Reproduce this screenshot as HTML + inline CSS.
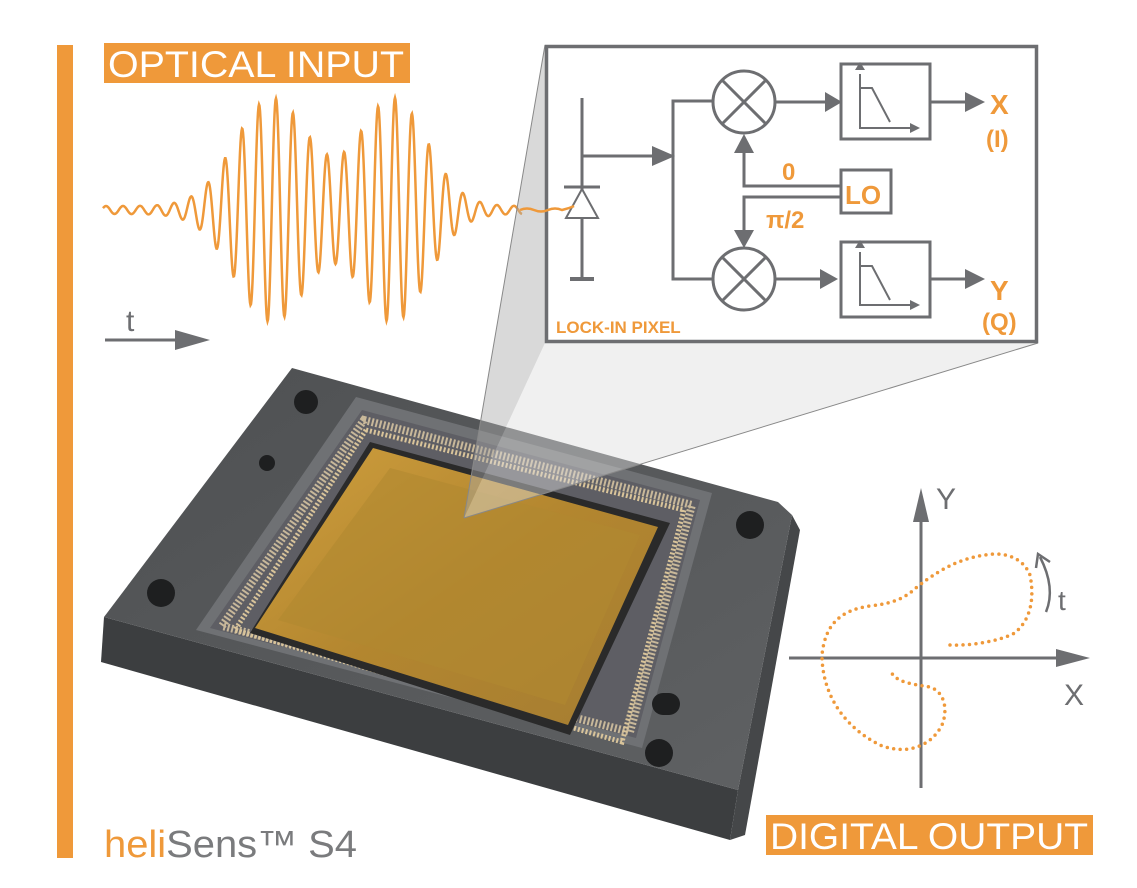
<!DOCTYPE html>
<html><head><meta charset="utf-8"><style>
html,body{margin:0;padding:0;background:#fff;}
svg{display:block;}
text{font-family:"Liberation Sans",sans-serif;}
</style></head><body>
<svg id="s" width="1137" height="888" viewBox="0 0 1137 888" xmlns="http://www.w3.org/2000/svg">
<defs>
<linearGradient id="top" x1="0" y1="0" x2="1" y2="1"><stop offset="0" stop-color="#4e5052"/><stop offset="1" stop-color="#5f6163"/></linearGradient>
<linearGradient id="gold" x1="0" y1="0" x2="1" y2="1"><stop offset="0" stop-color="#cf9f3e"/><stop offset="0.5" stop-color="#b3862f"/><stop offset="1" stop-color="#a57d32"/></linearGradient>
</defs>
<rect x="57" y="45" width="16" height="813" fill="#ef993a"/>
<rect x="104" y="43" width="306" height="40" fill="#ef993a"/>
<text x="108" y="77" font-size="37" fill="#fff" textLength="296" lengthAdjust="spacingAndGlyphs">OPTICAL INPUT</text>
<path id="wave" d="" fill="none" stroke="#ef993a" stroke-width="2.5"/>
<text x="126" y="331" font-size="30" fill="#6d6e71">t</text>
<line x1="105" y1="340" x2="180" y2="340" stroke="#6d6e71" stroke-width="3"/>
<path d="M175,330 L210,340 L175,350z" fill="#6d6e71"/>

<polygon points="104,617 738,790 730,840 101,662" fill="#3c3e40"/>
<polygon points="792,515 800,530 745,835 730,840 738,790" fill="#454749"/>
<polygon points="292,368 778,502 792,515 738,790 104,617" fill="url(#top)"/>
<polygon points="356,397 712,493 642,748 196,630" fill="#6f7174"/>
<polygon points="362,410 700,500 636,738 210,628" fill="#5e5e64"/>
<polygon points="364,420 692,505 630,732 222,626" fill="none" stroke="#c8b89a" stroke-width="8" stroke-dasharray="2 2"/>
<polygon points="366,430 684,510 622,742 235,630" fill="none" stroke="#d9c49a" stroke-width="5" stroke-dasharray="2 2"/>
<polygon points="370,442 670,523 570,735 250,633" fill="#2a2a2a"/>
<polygon points="373,448 658,527 568,725 255,628" fill="url(#gold)"/>
<polygon points="390,468 640,535 565,705 278,620" fill="#b08930" opacity="0.6"/>
<circle cx="306" cy="402" r="12" fill="#1e1f20"/>
<circle cx="267" cy="463" r="8" fill="#1e1f20"/>
<circle cx="161" cy="593" r="14" fill="#1e1f20"/>
<circle cx="750" cy="525" r="14" fill="#1e1f20"/>
<rect x="652" y="693" width="28" height="22" rx="11" fill="#1e1f20"/>
<circle cx="659" cy="753" r="14" fill="#1e1f20"/>

<polygon points="545,45 545,343 464,518" fill="#aaa" opacity="0.45"/>
<polygon points="545,343 1038,343 464,518" fill="#ddd" opacity="0.45"/>
<line x1="545" y1="45" x2="464" y2="518" stroke="#888" stroke-width="1"/>
<line x1="1038" y1="343" x2="464" y2="518" stroke="#888" stroke-width="1"/>

<rect x="546.5" y="46.5" width="490" height="295" fill="#fff" stroke="#6d6e71" stroke-width="3.5"/>
<g stroke="#6d6e71" stroke-width="3" fill="none">
<line x1="582" y1="98" x2="582" y2="279"/>
<line x1="570" y1="279" x2="594" y2="279" stroke-width="4"/>
<line x1="564" y1="187" x2="600" y2="187"/>
<polygon points="582,189 566,218 598,218" stroke-width="2" fill="#fff"/>
<line x1="582" y1="156" x2="660" y2="156"/>
<polyline points="713,101 673,101 673,279 713,279"/>
<circle cx="744" cy="102" r="31"/><line x1="722" y1="80" x2="766" y2="124"/><line x1="766" y1="80" x2="722" y2="124"/>
<circle cx="744" cy="279" r="31"/><line x1="722" y1="257" x2="766" y2="301"/><line x1="766" y1="257" x2="722" y2="301"/>
<line x1="776" y1="102" x2="825" y2="102"/><line x1="776" y1="279" x2="820" y2="279"/>
<rect x="841" y="64" width="89" height="75"/><rect x="841" y="242" width="89" height="75"/>
<line x1="930" y1="102" x2="970" y2="102"/><line x1="930" y1="279" x2="970" y2="279"/>
<rect x="841" y="170" width="50" height="43"/>
<polyline points="841,186 744,186 744,150"/>
<polyline points="841,197 744,197 744,232"/>
</g>
<g stroke="#6d6e71" stroke-width="2" fill="none">
<polyline points="860,74 860,128 918,128"/><polyline points="860,88 872,88 890,122"/>
<polyline points="860,252 860,305 918,305"/><polyline points="860,266 872,266 890,300"/>
</g>
<g fill="#6d6e71">
<path d="M652,146 L675,156 L652,166z"/>
<path d="M825,92 L842,102 L825,112z"/><path d="M820,269 L838,279 L820,289z"/>
<path d="M965,92 L985,102 L965,112z"/><path d="M965,269 L985,279 L965,289z"/>
<path d="M734,153 L744,134 L754,153z"/><path d="M734,230 L744,248 L754,230z"/>
<path d="M855,70 L860,62 L865,70z"/><path d="M910,123 L920,128 L910,133z"/>
<path d="M855,248 L860,240 L865,248z"/><path d="M910,300 L920,305 L910,310z"/>
</g>
<g fill="#ef993a" font-weight="bold">
<text x="990" y="114" font-size="28">X</text>
<text x="986" y="147" font-size="24">(I)</text>
<text x="990" y="300" font-size="28">Y</text>
<text x="982" y="330" font-size="24">(Q)</text>
<text x="845" y="204" font-size="26">LO</text>
<text x="782" y="180" font-size="24">0</text>
<text x="766" y="228" font-size="24">π/2</text>
<text x="556" y="333" font-size="17">LOCK-IN PIXEL</text>
</g>
<path d="M520,210 q7,-3 14,0 t14,0 t14,0 q8,-2 12,-4" fill="none" stroke="#ef993a" stroke-width="2.5"/>

<line x1="921" y1="505" x2="921" y2="788" stroke="#6d6e71" stroke-width="3"/>
<path d="M913,522 L921,488 L929,522z" fill="#6d6e71"/>
<line x1="789" y1="658" x2="1060" y2="658" stroke="#6d6e71" stroke-width="3"/>
<path d="M1056,649 L1090,658 L1056,667z" fill="#6d6e71"/>
<text x="936" y="509" font-size="30" fill="#6d6e71">Y</text>
<text x="1064" y="705" font-size="30" fill="#6d6e71">X</text>
<text x="1058" y="610" font-size="28" fill="#6d6e71">t</text>
<path d="M1046,612 Q1056,588 1040,557" fill="none" stroke="#6d6e71" stroke-width="2.5"/>
<path d="M1036,568 L1038,554 L1050,562" fill="none" stroke="#6d6e71" stroke-width="2.5"/>
<path d="M950,645 C975,646 1000,640 1013,634 C1030,622 1035,600 1030,575 C1022,555 1000,552 985,555 C965,558 945,565 917,587 C905,598 895,603 870,606 C840,610 825,625 822,655 C822,690 840,725 880,745 C905,755 930,748 942,725 C948,710 945,692 930,687 C910,684 895,682 890,670" fill="none" stroke="#ef993a" stroke-width="3.5" stroke-linecap="round" stroke-dasharray="0 6.5"/>

<rect x="766" y="815" width="327" height="40" fill="#ef993a"/>
<text x="770" y="849" font-size="37" fill="#fff" textLength="318" lengthAdjust="spacingAndGlyphs">DIGITAL OUTPUT</text>
<text x="104" y="857" font-size="38" textLength="253" lengthAdjust="spacingAndGlyphs"><tspan fill="#ef993a">heli</tspan><tspan fill="#7a7b7d">Sens™ S4</tspan></text>
</svg>
<script>
(function(){
var d="";
for(var x=103;x<=522;x+=0.5){
 var e=4+108*Math.exp(-Math.pow((x-272)/52,2))+108*Math.exp(-Math.pow((x-393)/48,2));
 var y=210-e*Math.cos(2*Math.PI*(x-276)/17);
 d+=(x==103?"M":"L")+x.toFixed(1)+","+y.toFixed(1);
}
document.getElementById("wave").setAttribute("d",d);
})();
</script>
</body></html>
